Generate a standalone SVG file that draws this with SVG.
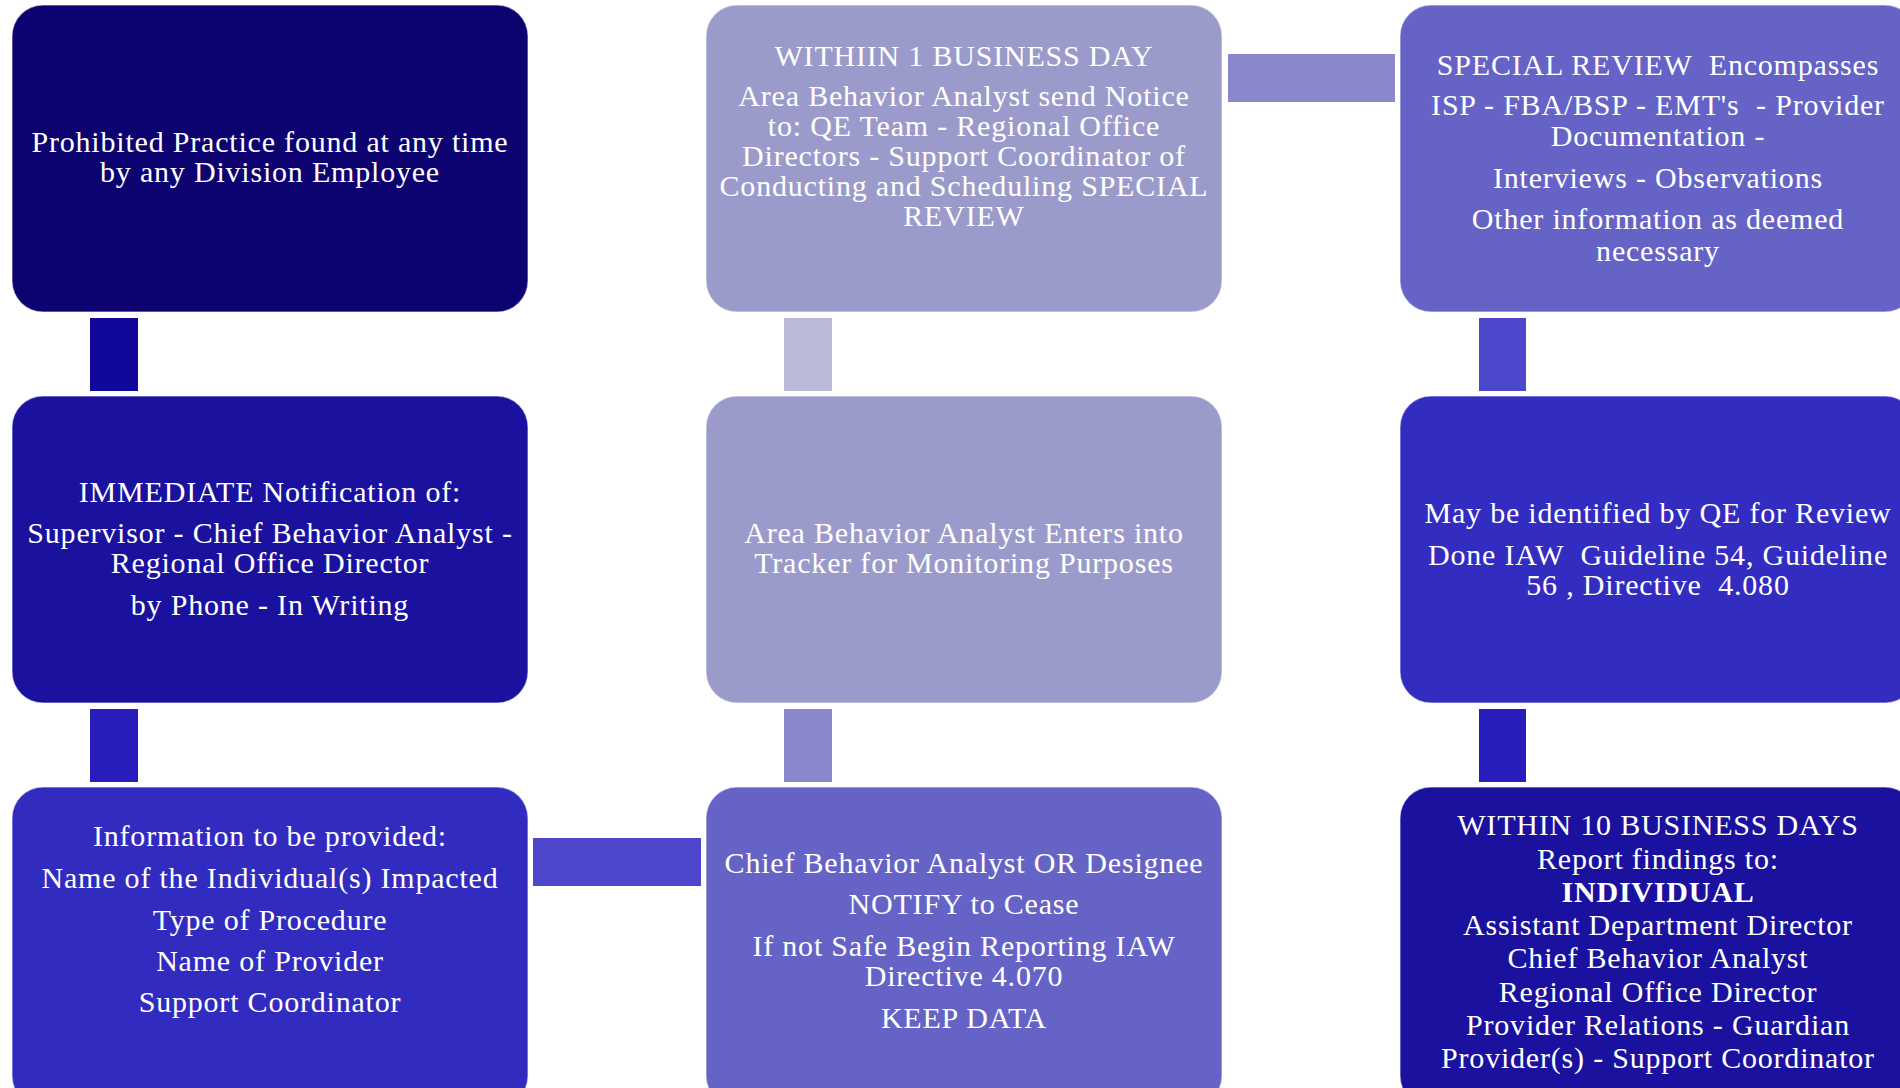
<svg xmlns="http://www.w3.org/2000/svg" width="1900" height="1088" viewBox="0 0 1900 1088">
<style>
.box{stroke:#ffffff;stroke-opacity:0.45;stroke-width:1.5}
text{font-family:"Liberation Serif","Times New Roman",serif;font-size:30px;fill:#ffffff;text-anchor:middle;letter-spacing:0.8px}
.b{font-weight:bold}
</style>
<rect width="1900" height="1088" fill="#ffffff"/>
<g id="connectors">
<rect x="90" y="318" width="48" height="73" fill="#10089a"/>
<rect x="90" y="709" width="48" height="73" fill="#261dbb"/>
<rect x="533" y="838" width="168" height="48" fill="#4d47cc"/>
<rect x="784" y="709" width="48" height="73" fill="#8a87cb"/>
<rect x="784" y="318" width="48" height="73" fill="#bbbbd8"/>
<rect x="1228" y="54" width="167" height="48" fill="#8a87cb"/>
<rect x="1479" y="318" width="47" height="73" fill="#4d47cc"/>
<rect x="1479" y="709" width="47" height="73" fill="#261dbb"/>
</g>
<g id="n1">
<rect class="box" x="12" y="5" width="516" height="307" rx="31" fill="#0c0270"/>
<text x="270" y="152">Prohibited Practice found at any time</text>
<text x="270" y="182">by any Division Employee</text>
</g>
<g id="n2">
<rect class="box" x="12" y="396" width="516" height="307" rx="31" fill="#1a129e"/>
<text x="270" y="502">IMMEDIATE Notification of:</text>
<text x="270" y="543">Supervisor - Chief Behavior Analyst -</text>
<text x="270" y="573">Regional Office Director</text>
<text x="270" y="615">by Phone - In Writing</text>
</g>
<g id="n3">
<rect class="box" x="12" y="787" width="516" height="320" rx="31" fill="#322bbf"/>
<text x="270" y="846">Information to be provided:</text>
<text x="270" y="888">Name of the Individual(s) Impacted</text>
<text x="270" y="930">Type of Procedure</text>
<text x="270" y="971">Name of Provider</text>
<text x="270" y="1012">Support Coordinator</text>
</g>
<g id="n4">
<rect class="box" x="706" y="787" width="516" height="320" rx="31" fill="#6663c6"/>
<text x="964" y="873">Chief Behavior Analyst OR Designee</text>
<text x="964" y="914">NOTIFY to Cease</text>
<text x="964" y="956">If not Safe Begin Reporting IAW</text>
<text x="964" y="986">Directive 4.070</text>
<text x="964" y="1028">KEEP DATA</text>
</g>
<g id="n5">
<rect class="box" x="706" y="396" width="516" height="307" rx="31" fill="#9b9bcb"/>
<text x="964" y="543">Area Behavior Analyst Enters into</text>
<text x="964" y="573">Tracker for Monitoring Purposes</text>
</g>
<g id="n6">
<rect class="box" x="706" y="5" width="516" height="307" rx="31" fill="#9b9bcb"/>
<text x="964" y="66">WITHIIN 1 BUSINESS DAY</text>
<text x="964" y="106">Area Behavior Analyst send Notice</text>
<text x="964" y="136">to: QE Team - Regional Office</text>
<text x="964" y="166">Directors - Support Coordinator of</text>
<text x="964" y="196">Conducting and Scheduling SPECIAL</text>
<text x="964" y="226">REVIEW</text>
</g>
<g id="n7">
<rect class="box" x="1400" y="5" width="516" height="307" rx="31" fill="#6663c6"/>
<text x="1658" y="75" xml:space="preserve">SPECIAL REVIEW  Encompasses</text>
<text x="1658" y="115" xml:space="preserve">ISP - FBA/BSP - EMT's  - Provider</text>
<text x="1658" y="146">Documentation -</text>
<text x="1658" y="188">Interviews - Observations</text>
<text x="1658" y="229">Other information as deemed</text>
<text x="1658" y="261">necessary</text>
</g>
<g id="n8">
<rect class="box" x="1400" y="396" width="516" height="307" rx="31" fill="#332cc0"/>
<text x="1658" y="523">May be identified by QE for Review</text>
<text x="1658" y="565" xml:space="preserve">Done IAW  Guideline 54, Guideline</text>
<text x="1658" y="595" xml:space="preserve">56 , Directive  4.080</text>
</g>
<g id="n9">
<rect class="box" x="1400" y="787" width="516" height="320" rx="31" fill="#1a129e"/>
<text x="1658" y="835">WITHIN 10 BUSINESS DAYS</text>
<text x="1658" y="869">Report findings to:</text>
<text class="b" x="1658" y="902">INDIVIDUAL</text>
<text x="1658" y="935">Assistant Department Director</text>
<text x="1658" y="968">Chief Behavior Analyst</text>
<text x="1658" y="1002">Regional Office Director</text>
<text x="1658" y="1035">Provider Relations - Guardian</text>
<text x="1658" y="1068">Provider(s) - Support Coordinator</text>
</g>
</svg>
